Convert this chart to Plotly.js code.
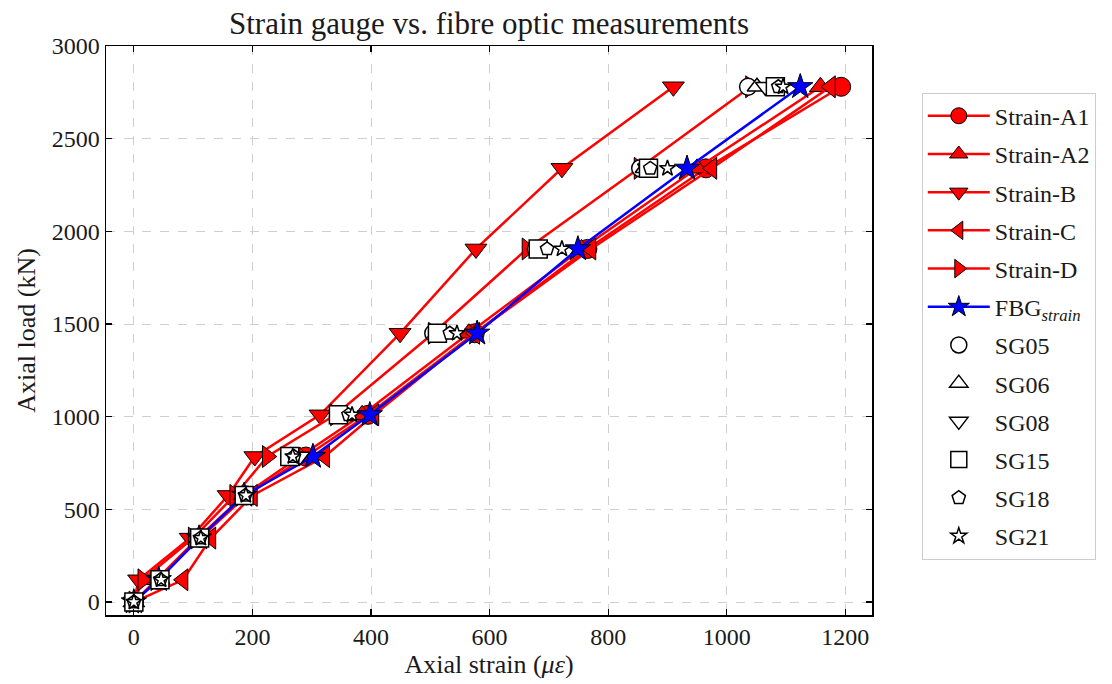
<!DOCTYPE html>
<html>
<head>
<meta charset="utf-8">
<script src="https://cdn.plot.ly/plotly-3.0.1.min.js"></script>
<style>html,body{margin:0;padding:0;background:#fff;}#chart{width:1112px;height:684px;}</style>
</head>
<body>
<div id="chart"></div>
<script>
// Axial load levels (kN)
const load = [0, 120, 345, 575, 785, 1010, 1450, 1905, 2340, 2780];

// Fibre optic strain series (microstrain)
const strainA1 = [0, 40, 112, 190, 290, 395, 575, 765, 965, 1193];
const strainA2 = [0, 38, 108, 185, 280, 385, 565, 755, 950, 1158];
const strainB  = [0, 8, 95, 159, 204, 314, 449, 577, 722, 910];
const strainC  = [0, 83, 130, 200, 322, 405, 575, 771, 975, 1175];
const strainD  = [0, 15, 100, 170, 225, 340, 505, 663, 852, 1040];
const fbgStrain = [0, 42, 110, 186, 302, 398, 579, 749, 933, 1124];

// Strain gauges (microstrain)
const sg05 = [0, 42, 112, 186, 262, 345, 505, 678, 854, 1036];
const sg06 = [0, 44, 110, 185, 265, 350, 512, 685, 862, 1051];
const sg08 = [0, 43, 111, 187, 280, 352, 515, 688, 866, 1065];
const sg15 = [0, 44, 111, 186, 263, 345, 512, 682, 868, 1082];
const sg18 = [0, 45, 112, 188, 270, 362, 533, 697, 871, 1087];
const sg21 = [0, 46, 113, 189, 268, 368, 545, 722, 900, 1095];

const xTicks = [0, 200, 400, 600, 800, 1000, 1200];
const yTicks = [0, 500, 1000, 1500, 2000, 2500, 3000];

const FONT = 'Liberation Serif, Times New Roman, serif';

function fibre(x, name, symbol, color) {
  return {
    x: x, y: load, name: name, type: 'scatter', mode: 'lines+markers',
    line: {color: color, width: 2.5},
    marker: {symbol: symbol, size: 19, color: color, line: {color: 'black', width: 1}},
    legendgroup: name
  };
}
function gauge(x, name, symbol, size) {
  return {
    x: x, y: load, name: name, type: 'scatter', mode: 'markers',
    marker: {symbol: symbol, size: size, color: 'white', line: {color: 'black', width: 1.5}},
    legendgroup: name
  };
}

const data = [
  fibre(strainA1, 'Strain-A1', 'circle', 'red'),
  fibre(strainA2, 'Strain-A2', 'triangle-up', 'red'),
  fibre(strainB, 'Strain-B', 'triangle-down', 'red'),
  fibre(strainC, 'Strain-C', 'triangle-left', 'red'),
  fibre(strainD, 'Strain-D', 'triangle-right', 'red'),
  fibre(fbgStrain, 'FBG<sub><i>strain</i></sub>', 'star', 'blue'),
  gauge(sg05, 'SG05', 'circle', 17),
  gauge(sg06, 'SG06', 'triangle-up', 17),
  gauge(sg08, 'SG08', 'triangle-down', 17),
  gauge(sg15, 'SG15', 'square', 18),
  gauge(sg18, 'SG18', 'pentagon', 14),
  gauge(sg21, 'SG21', 'star', 12)
];

const axisCommon = {
  showline: true, linecolor: 'black', linewidth: 1.5, mirror: 'allticks',
  ticks: 'inside', ticklen: 6, tickwidth: 1.2, tickcolor: 'black',
  showgrid: true, gridcolor: '#cfcfcf', griddash: 'dash', gridwidth: 1,
  zeroline: false,
  tickfont: {family: FONT, size: 24, color: '#1a1a1a'}
};

const layout = {
  width: 1112, height: 684,
  paper_bgcolor: 'white', plot_bgcolor: 'white',
  margin: {l: 106, r: 240, t: 46, b: 69},
  title: {
    text: 'Strain gauge vs. fibre optic measurements',
    font: {family: FONT, size: 31, color: '#1a1a1a'},
    x: 0.5, xref: 'paper', y: 0.966, yref: 'container', yanchor: 'middle'
  },
  xaxis: Object.assign({}, axisCommon, {
    range: [-47, 1245], tickvals: xTicks,
    title: {text: 'Axial strain (<i>με</i>)', font: {family: FONT, size: 26, color: '#1a1a1a'}, standoff: 4}
  }),
  yaxis: Object.assign({}, axisCommon, {
    range: [-70, 3000], tickvals: yTicks,
    title: {text: 'Axial load (kN)', font: {family: FONT, size: 26, color: '#1a1a1a'}, standoff: 8}
  }),
  showlegend: true,
  legend: {
    x: 1.065, y: 0.918, xanchor: 'left', yanchor: 'top', xref: 'paper', yref: 'paper',
    font: {family: FONT, size: 24, color: '#1a1a1a'},
    bgcolor: 'white', bordercolor: '#cccccc', borderwidth: 1,
    traceorder: 'grouped', tracegroupgap: 4, itemwidth: 62
  }
};

Plotly.newPlot('chart', data, layout, {displayModeBar: false, staticPlot: true});
</script>
</body>
</html>
